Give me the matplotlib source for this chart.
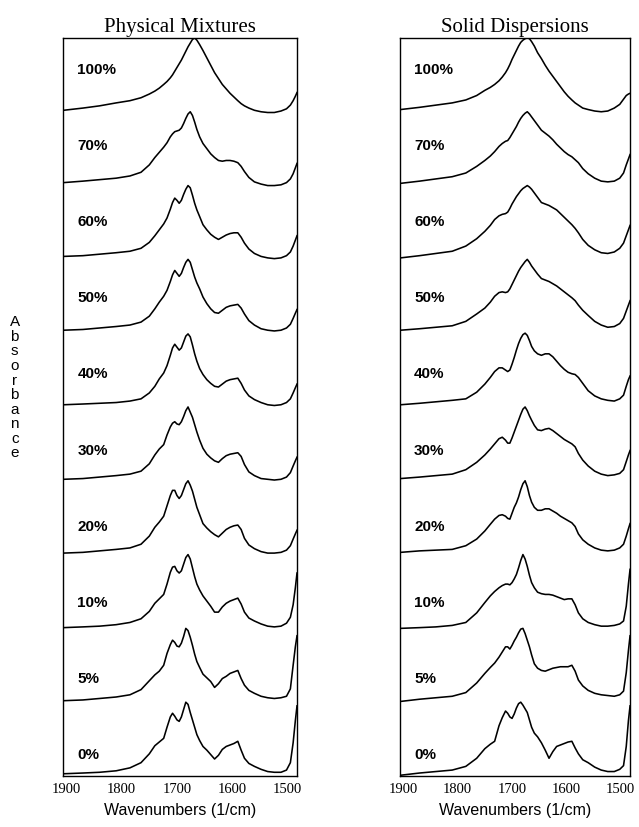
import matplotlib.pyplot as plt
import numpy as np

# Wavenumber grid (1/cm) shared by all spectra
wavenumbers = [1905, 1870, 1840, 1810, 1785, 1765, 1750, 1740, 1732, 1724,
               1718, 1712, 1708, 1704, 1700, 1696, 1692, 1688, 1684, 1680,
               1676, 1672, 1668, 1664, 1659,
               1653, 1646, 1639, 1632, 1625, 1618, 1611, 1604, 1597, 1590, 1584,
               1578, 1570, 1560, 1548, 1536, 1524, 1512, 1502, 1495, 1490, 1486, 1483]

levels = ["100%", "70%", "60%", "50%", "40%", "30%", "20%", "10%", "5%", "0%"]

# Physical mixtures: absorbance scaled 0-100 inside each strip
pm_100 = [2, 5, 8, 12, 15, 19, 24, 28, 32, 37,
          41, 46, 50, 55, 60, 65, 70, 76, 82, 88, 93, 98, 100, 97, 91,
          83, 73, 63, 53, 45, 37, 31, 25, 20, 15, 11,
          8, 5, 2, 0, -1, -1, 1, 4, 9, 15, 21, 26]
pm_70 = [4, 6, 8, 10, 13, 18, 28, 38, 45, 52,
         58, 66, 70, 73, 74, 75, 78, 84, 91, 97, 100, 95, 86, 76, 66,
         57, 50, 43, 38, 34, 33, 34, 34, 33, 31, 26,
         19, 11, 5, 2, 0, 0, 1, 4, 9, 16, 24, 30]
pm_60 = [4, 5, 7, 9, 11, 15, 23, 32, 40, 48,
         56, 68, 77, 83, 80, 76, 80, 88, 95, 100, 97, 87, 76, 67, 58,
         47, 40, 34, 30, 27, 30, 33, 35, 36, 36, 30,
         22, 14, 8, 4, 2, 1, 2, 5, 10, 18, 26, 32]
pm_50 = [4, 5, 7, 9, 11, 15, 23, 33, 42, 50,
         58, 70, 79, 85, 81, 77, 81, 89, 96, 100, 96, 86, 76, 68, 60,
         49, 40, 33, 28, 27, 31, 35, 37, 38, 39, 34,
         26, 17, 11, 6, 4, 3, 4, 7, 12, 20, 27, 32]
pm_40 = [3, 4, 5, 6, 8, 11, 19, 28, 38, 46,
         56, 70, 80, 85, 81, 77, 80, 88, 96, 99, 95, 84, 72, 62, 52,
         44, 37, 32, 28, 27, 31, 35, 37, 38, 39, 32,
         23, 15, 10, 6, 3, 2, 3, 6, 11, 19, 26, 31]
pm_30 = [2, 3, 5, 7, 9, 13, 23, 35, 43, 49,
         62, 73, 78, 80, 77, 76, 80, 87, 95, 100, 93, 86, 76, 66, 55,
         44, 36, 31, 27, 25, 30, 34, 36, 37, 38, 33,
         22, 12, 7, 3, 2, 1, 2, 5, 11, 20, 27, 32]
pm_20 = [2, 3, 5, 7, 9, 14, 25, 37, 44, 52,
         66, 80, 87, 87, 80, 76, 80, 88, 96, 100, 94, 86, 75, 64, 54,
         42, 36, 31, 27, 24, 29, 34, 37, 39, 40, 34,
         22, 13, 8, 4, 2, 2, 3, 6, 12, 21, 28, 33]
pm_10 = [1, 2, 3, 5, 8, 13, 23, 34, 40, 46,
         60, 76, 83, 84, 78, 75, 78, 87, 96, 100, 94, 82, 70, 60, 52,
         44, 37, 30, 22, 22, 29, 34, 37, 39, 41, 33,
         22, 14, 10, 6, 3, 2, 3, 7, 15, 32, 55, 75]
pm_5 = [2, 3, 5, 7, 10, 17, 29, 37, 42, 50,
        66, 78, 84, 81, 76, 75, 80, 89, 100, 97, 88, 77, 65, 55, 47,
        38, 33, 28, 20, 25, 32, 35, 39, 41, 43, 32,
        23, 16, 12, 8, 6, 5, 6, 8, 18, 50, 75, 90]
pm_0 = [3, 4, 5, 7, 11, 18, 30, 41, 46, 51,
        66, 80, 85, 81, 76, 74, 80, 90, 100, 97, 86, 76, 66, 56, 48,
        40, 35, 29, 23, 28, 36, 40, 42, 44, 47, 35,
        24, 17, 13, 9, 6, 5, 5, 8, 18, 45, 75, 95]

# Solid dispersions
sd_100 = [3, 6, 9, 12, 16, 22, 29, 33, 37, 42,
          47, 53, 58, 64, 71, 77, 83, 89, 94, 97, 99, 100, 99, 95, 89,
          80, 72, 63, 55, 48, 41, 34, 27, 21, 16, 12,
          9, 5, 3, 1, 0, 1, 5, 10, 17, 22, 24, 25]
sd_70 = [3, 6, 9, 12, 17, 26, 34, 40, 46, 53,
         57, 60, 61, 65, 70, 75, 80, 86, 91, 95, 98, 100, 97, 93, 88,
         82, 75, 71, 67, 62, 56, 51, 46, 42, 39, 35,
         31, 23, 16, 10, 6, 5, 6, 10, 17, 28, 36, 42]
sd_60 = [2, 5, 8, 11, 18, 28, 38, 46, 54, 59,
         61, 62, 64, 69, 75, 80, 85, 89, 93, 96, 98, 100, 98, 95, 90,
         84, 77, 75, 73, 70, 67, 62, 57, 52, 47, 42,
         36, 27, 19, 13, 9, 8, 10, 15, 22, 32, 40, 46]
sd_50 = [4, 6, 8, 10, 16, 26, 34, 42, 50, 55,
         56, 55, 56, 60, 66, 72, 78, 84, 89, 93, 97, 100, 96, 91, 86,
         80, 74, 72, 70, 67, 64, 60, 56, 52, 48, 44,
         38, 31, 24, 16, 11, 8, 9, 13, 20, 30, 38, 44]
sd_40 = [3, 5, 7, 9, 11, 20, 31, 40, 48, 53,
         53, 50, 48, 50, 58, 67, 77, 86, 93, 98, 100, 97, 90, 82, 76,
         72, 70, 72, 72, 68, 62, 56, 51, 47, 45, 44,
         40, 32, 22, 15, 11, 9, 8, 11, 16, 28, 37, 42]
sd_30 = [3, 5, 7, 9, 15, 25, 35, 43, 50, 57,
         59, 55, 51, 51, 58, 66, 74, 82, 90, 97, 100, 95, 88, 82, 75,
         69, 68, 70, 71, 68, 64, 60, 56, 53, 50, 46,
         37, 28, 20, 13, 9, 7, 8, 10, 15, 26, 35, 41]
sd_20 = [3, 5, 6, 7, 12, 21, 32, 41, 48, 53,
         54, 52, 49, 48, 56, 64, 70, 78, 88, 96, 100, 92, 80, 71, 64,
         60, 60, 62, 62, 59, 56, 52, 49, 46, 43, 38,
         28, 20, 14, 9, 6, 5, 6, 9, 14, 25, 35, 42]
sd_10 = [0, 1, 2, 4, 8, 21, 35, 44, 50, 55,
         58, 60, 60, 59, 62, 67, 73, 82, 92, 100, 94, 84, 72, 62, 55,
         49, 47, 46, 46, 45, 43, 41, 39, 40, 40, 32,
         21, 13, 8, 5, 3, 3, 4, 6, 10, 30, 60, 80]
sd_5 = [1, 4, 6, 8, 13, 26, 39, 47, 53, 61,
        68, 75, 75, 72, 77, 83, 88, 94, 99, 100, 93, 84, 75, 64, 52,
        46, 43, 42, 44, 46, 47, 48, 48, 48, 50, 42,
        30, 22, 16, 12, 10, 9, 8, 10, 15, 40, 70, 90]
sd_0 = [1, 4, 6, 8, 13, 24, 37, 43, 47, 68,
        79, 88, 85, 80, 78, 84, 92, 98, 100, 96, 91, 86, 76, 66, 58,
        53, 45, 35, 24, 33, 40, 42, 44, 46, 47, 38,
        30, 22, 18, 12, 8, 6, 6, 9, 14, 40, 75, 95]

physical = [pm_100, pm_70, pm_60, pm_50, pm_40, pm_30, pm_20, pm_10, pm_5, pm_0]
solid = [sd_100, sd_70, sd_60, sd_50, sd_40, sd_30, sd_20, sd_10, sd_5, sd_0]

fig = plt.figure(figsize=(6.39, 8.27), dpi=100)
ax1 = fig.add_axes([0.0986, 0.0617, 0.3662, 0.8924])
ax2 = fig.add_axes([0.626, 0.0617, 0.36, 0.8924])

for ax, curves, title in [(ax1, physical, "Physical Mixtures"),
                          (ax2, solid, "Solid Dispersions")]:
    n = len(curves)
    # stack the strips from top (100%) to bottom (0%)
    for i, (lab, y) in enumerate(zip(levels, curves)):
        base = n - 1 - i
        ax.plot(wavenumbers, base + np.array(y) / 100, color="black", lw=1.15)
        ax.text(1880, base + 1 - (0.44 + 0.03 * i), lab, fontsize=11,
                fontweight="bold", family="Liberation Sans", va="center")

    ax.set_xlim(1906, 1483)
    ax.set_ylim(0, n)
    ax.set_yticks([])
    ax.set_xticks([1900, 1800, 1700, 1600, 1500])
    ax.tick_params(axis="x", length=0, pad=5, labelsize=10.5)
    for lbl in ax.get_xticklabels():
        lbl.set_family("Liberation Serif")
    for sp in ax.spines.values():
        sp.set_linewidth(1.0)
    ax.set_xlabel("Wavenumbers (1/cm)", fontsize=11.5,
                  family="Liberation Sans", labelpad=5)
    ax.set_title(title, fontsize=15, family="Liberation Serif", pad=4)

# vertical letter-by-letter axis label
fig.text(0.023, 0.531, "\n".join("Absorbance"), ha="center", va="center",
         fontsize=11, linespacing=1.05, family="Liberation Sans")

fig.savefig("out.png", dpi=100)
